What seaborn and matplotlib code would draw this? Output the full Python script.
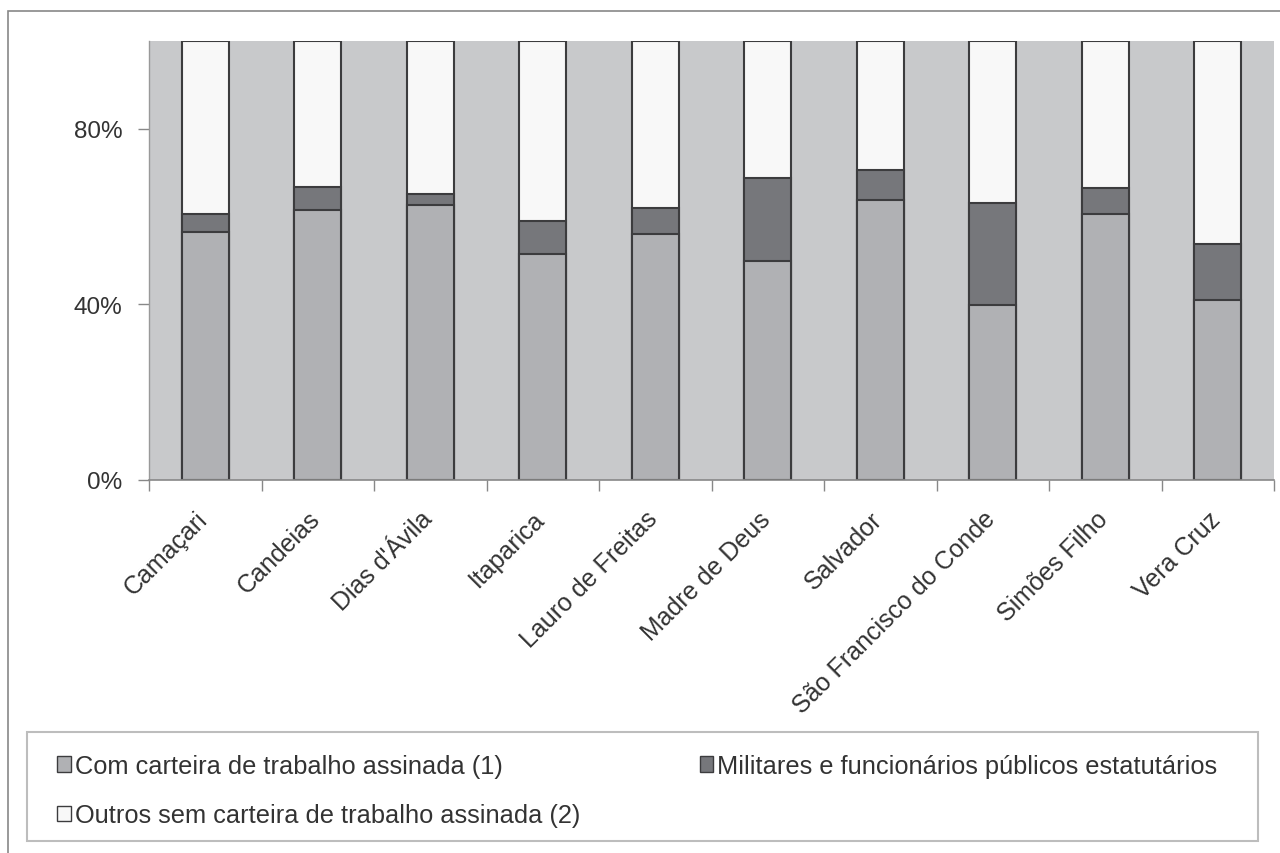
import matplotlib
matplotlib.use("Agg")
import matplotlib.pyplot as plt
import matplotlib.transforms as mtransforms
import seaborn as sns
import pandas as pd
from matplotlib.patches import Rectangle, Patch
from matplotlib.ticker import FixedLocator

municipios = ["Camaçari", "Candeias", "Dias d'Ávila", "Itaparica", "Lauro de Freitas",
              "Madre de Deus", "Salvador", "São Francisco do Conde", "Simões Filho", "Vera Cruz"]
com_carteira = [56.4, 61.6, 62.6, 51.5, 56.1, 50.0, 63.7, 39.9, 60.6, 41.0]
militares = [4.3, 5.2, 2.5, 7.4, 5.9, 18.9, 6.9, 23.2, 5.9, 12.7]
outros = [39.3, 33.2, 34.9, 41.1, 38.0, 31.1, 29.4, 36.9, 33.5, 46.3]
y_ticks = [0, 40, 80]
y_tick_labels = ["0%", "40%", "80%"]
series_names = ["Com carteira de trabalho assinada (1)",
                "Militares e funcionários públicos estatutários",
                "Outros sem carteira de trabalho assinada (2)"]

df = pd.DataFrame({"mun": municipios, "com": com_carteira, "mil": militares, "out": outros})
df["top2"] = df["com"] + df["mil"]
df["top3"] = df["top2"] + df["out"]

sns.set_theme(style="white")
plt.rcParams["font.family"] = ["Liberation Sans", "DejaVu Sans"]

C_BG = "#c8c9cb"
C_LIGHT = "#b0b1b4"
C_DARK = "#76777b"
C_WHITE = "#f8f8f8"
C_EDGE = "#3c3c3e"

fig = plt.figure(figsize=(12.8, 8.54), dpi=100)
ax = fig.add_axes([149/1280, 1 - 481/854, (1274-149)/1280, (481-42)/854])
ax.set_facecolor(C_BG)

W = 0.42
for col, color in [("top3", C_WHITE), ("top2", C_DARK), ("com", C_LIGHT)]:
    sns.barplot(data=df, x="mun", y=col, color=color, width=W, ax=ax,
                edgecolor=C_EDGE, linewidth=1.5, saturation=1)

ax.set_xlim(-0.5, len(municipios) - 0.5)
ax.set_ylim(0, 100)
ax.set_xlabel("")
ax.set_ylabel("")
ax.set_yticks(y_ticks)
ax.set_yticklabels(y_tick_labels)
ax.tick_params(axis="y", length=8, width=1, color="#888888", labelsize=17.5,
               labelcolor="#333333", pad=11, left=True)

ax.set_xticks(range(len(municipios)))
ax.set_xticklabels(municipios, rotation=45, ha="right", va="top",
                   rotation_mode="anchor", fontsize=18, color="#333333")
ax.tick_params(axis="x", length=0, pad=14)
offset = mtransforms.ScaledTranslation(-10/100, -7/100, fig.dpi_scale_trans)
for lab in ax.get_xticklabels():
    lab.set_transform(lab.get_transform() + offset)
ax.xaxis.set_minor_locator(FixedLocator([i - 0.5 for i in range(len(municipios) + 1)]))
ax.tick_params(axis="x", which="minor", length=8, width=1, color="#888888", bottom=True)

for s in ["top", "right"]:
    ax.spines[s].set_visible(False)
ax.spines["left"].set_color("#999999")
ax.spines["bottom"].set_color("#888888")
ax.spines["left"].set_linewidth(1)
ax.spines["bottom"].set_linewidth(1.2)

fig.patches.append(Rectangle((8/1280, -0.05), 1.1, 1 - 12/854 + 0.05, transform=fig.transFigure,
                             fill=False, edgecolor="#888888", linewidth=1.2, zorder=0))
fig.patches.append(Rectangle((27/1280, 1 - 842/854), (1258-27)/1280, (842-733)/854,
                             transform=fig.transFigure, fill=False, edgecolor="#bdbdbd",
                             linewidth=1.5))

handles = [Patch(facecolor=C_LIGHT, edgecolor=C_EDGE, linewidth=1),
           Patch(facecolor=C_WHITE, edgecolor=C_EDGE, linewidth=1),
           Patch(facecolor=C_DARK, edgecolor=C_EDGE, linewidth=1)]
labels = [series_names[0], series_names[2], series_names[1]]
fig.legend(handles, labels, ncol=2, loc="upper left",
           bbox_to_anchor=(34/1280, 1 - 732/854), frameon=False, fontsize=18.3,
           handlelength=0.55, handleheight=0.55, handletextpad=0.15,
           labelspacing=1.0, columnspacing=4.7, labelcolor="#333333")

fig.savefig("out.png", dpi=100)
